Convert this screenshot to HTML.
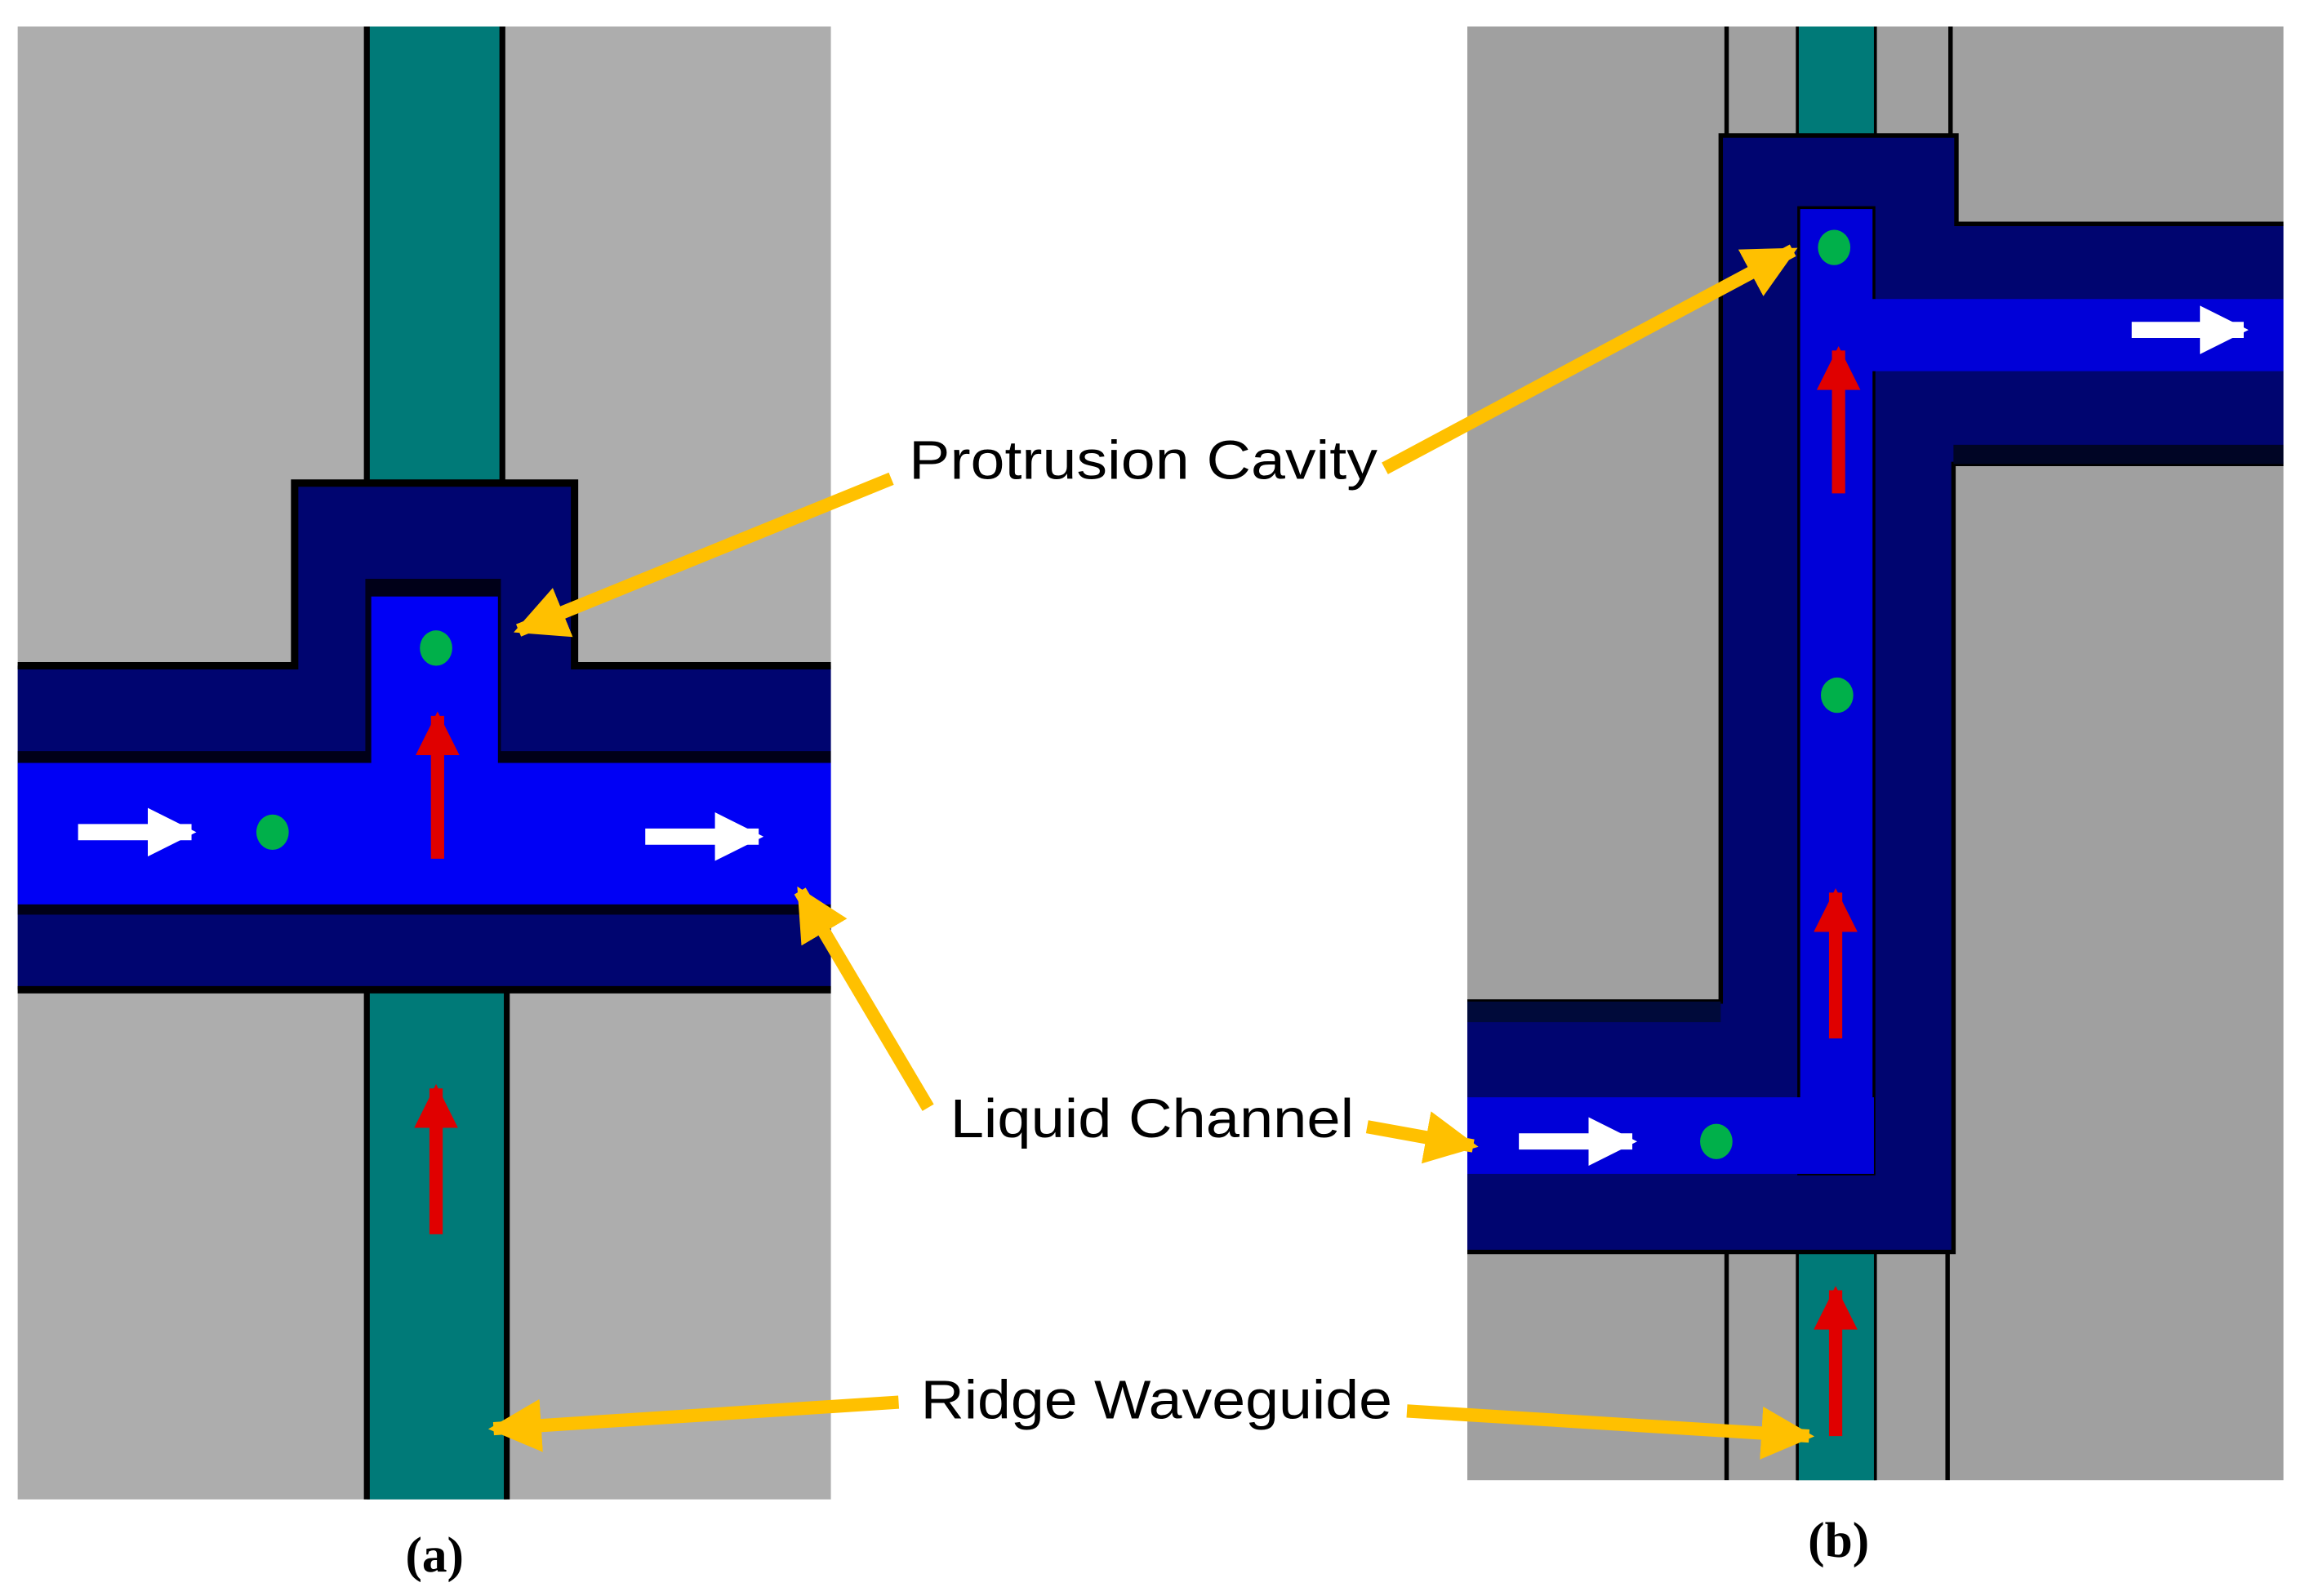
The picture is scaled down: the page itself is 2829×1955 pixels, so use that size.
<!DOCTYPE html>
<html><head><meta charset="utf-8"><style>html,body{margin:0;padding:0;background:#fff}svg{display:block}</style></head>
<body>
<svg width="2829" height="1955" viewBox="0 0 1568 1083.6" preserveAspectRatio="none" xmlns="http://www.w3.org/2000/svg">
<defs>
<marker id="y" viewBox="0 0 10 10" refX="9" refY="5" markerWidth="4" markerHeight="4" orient="auto" markerUnits="strokeWidth"><path d="M0,0L10,5L0,10Z" fill="#ffc000"/></marker>
<marker id="r" viewBox="0 0 10 10" refX="9" refY="5" markerWidth="3.6" markerHeight="3.3" orient="auto" markerUnits="strokeWidth"><path d="M0,0L10,5L0,10Z" fill="#e00000"/></marker>
<marker id="w" viewBox="0 0 10 10" refX="9" refY="5" markerWidth="3" markerHeight="3.4" orient="auto" markerUnits="strokeWidth"><path d="M0,0L10,5L0,10Z" fill="#fff"/></marker>
<clipPath id="ca"><rect x="12" y="18" width="552" height="1000"/></clipPath>
<clipPath id="cb"><rect x="996" y="18" width="554" height="987"/></clipPath>
</defs>
<!-- Panel a -->
<rect x="12" y="18" width="552" height="1000" fill="#adadad"/>
<g clip-path="url(#ca)">
<rect x="249" y="10" width="92" height="320" fill="#007a78" stroke="#000" stroke-width="4"/>
<rect x="249" y="672" width="95" height="355" fill="#007a78" stroke="#000" stroke-width="4"/>
<path d="M4,452 H200 V328 H390 V452 H572 V672 H4 Z" fill="#000570" stroke="#000" stroke-width="5"/>
<rect x="12" y="510" width="552" height="8" fill="#000018"/>
<rect x="12" y="614" width="552" height="7" fill="#000018"/>
<rect x="248" y="393" width="92" height="125" fill="#000018"/>
<rect x="252" y="405" width="86" height="115" fill="#0000f5"/>
<rect x="12" y="518" width="552" height="96" fill="#0000f5"/>
</g>
<!-- Panel b -->
<rect x="996" y="18" width="554" height="987" fill="#a0a0a0"/>
<g clip-path="url(#cb)">
<rect x="1220" y="10" width="53" height="84" fill="#007a78" stroke="#000" stroke-width="2"/>
<line x1="1172" y1="18" x2="1172" y2="94" stroke="#000" stroke-width="3"/>
<line x1="1324" y1="18" x2="1324" y2="94" stroke="#000" stroke-width="3"/>
<rect x="1220" y="850" width="53" height="165" fill="#007a78" stroke="#000" stroke-width="2"/>
<line x1="1172" y1="850" x2="1172" y2="1005" stroke="#000" stroke-width="3"/>
<line x1="1322" y1="850" x2="1322" y2="1005" stroke="#000" stroke-width="3"/>
<path d="M990,680 H1168 V92 H1328 V152 H1558 V315 H1326 V850 H990 Z" fill="#000570" stroke="#000" stroke-width="3"/>
<rect x="1326" y="302" width="224" height="13" fill="#000525"/>
<rect x="996" y="680" width="172" height="14" fill="#000a3a"/>
<rect x="1221" y="141" width="51" height="656" fill="#0000d8" stroke="#000" stroke-width="2"/>
<rect x="1222" y="203" width="328" height="49" fill="#0000d8"/>
<rect x="996" y="745" width="276" height="52" fill="#0000d8"/>
<rect x="1222" y="142" width="49" height="654" fill="#0000d8"/>
</g>
<!-- dots -->
<g fill="#00b04a">
<ellipse cx="296" cy="440" rx="11" ry="12"/><ellipse cx="185" cy="565" rx="11" ry="12"/>
<ellipse cx="1245" cy="168" rx="11" ry="12"/><ellipse cx="1247" cy="472" rx="11" ry="12"/><ellipse cx="1165" cy="775" rx="11" ry="12"/>
</g>
<!-- red arrows -->
<g stroke="#e00000" stroke-width="9" marker-end="url(#r)">
<line x1="297" y1="583" x2="297" y2="486"/><line x1="296" y1="838" x2="296" y2="739"/>
<line x1="1248" y1="335" x2="1248" y2="238"/><line x1="1246" y1="705" x2="1246" y2="606"/><line x1="1246" y1="975" x2="1246" y2="876"/>
</g>
<!-- white arrows -->
<g stroke="#fff" stroke-width="11" marker-end="url(#w)">
<line x1="53" y1="565" x2="130" y2="565"/><line x1="438" y1="568" x2="515" y2="568"/>
<line x1="1447" y1="224" x2="1523" y2="224"/><line x1="1031" y1="775" x2="1108" y2="775"/>
</g>
<!-- yellow arrows -->
<g stroke="#ffc000" stroke-width="9" marker-end="url(#y)" fill="none">
<line x1="605" y1="325" x2="352" y2="428"/>
<line x1="940" y1="318" x2="1217" y2="170"/>
<line x1="630" y1="752" x2="543" y2="605"/>
<line x1="928" y1="765" x2="1000" y2="778"/>
<line x1="610" y1="952" x2="335" y2="970"/>
<line x1="955" y1="958" x2="1228" y2="975"/>
</g>
<g font-family="'Liberation Sans',sans-serif" font-size="37" fill="#000">
<text x="617" y="325" textLength="318" lengthAdjust="spacingAndGlyphs">Protrusion Cavity</text>
<text x="645" y="772" textLength="274" lengthAdjust="spacingAndGlyphs">Liquid Channel</text>
<text x="625" y="963" textLength="320" lengthAdjust="spacingAndGlyphs">Ridge Waveguide</text>
</g>
<g font-family="'Liberation Serif',serif" font-size="34" font-weight="bold" text-anchor="middle">
<text x="295" y="1067">(a)</text><text x="1248" y="1057">(b)</text>
</g>
</svg>
</body></html>
